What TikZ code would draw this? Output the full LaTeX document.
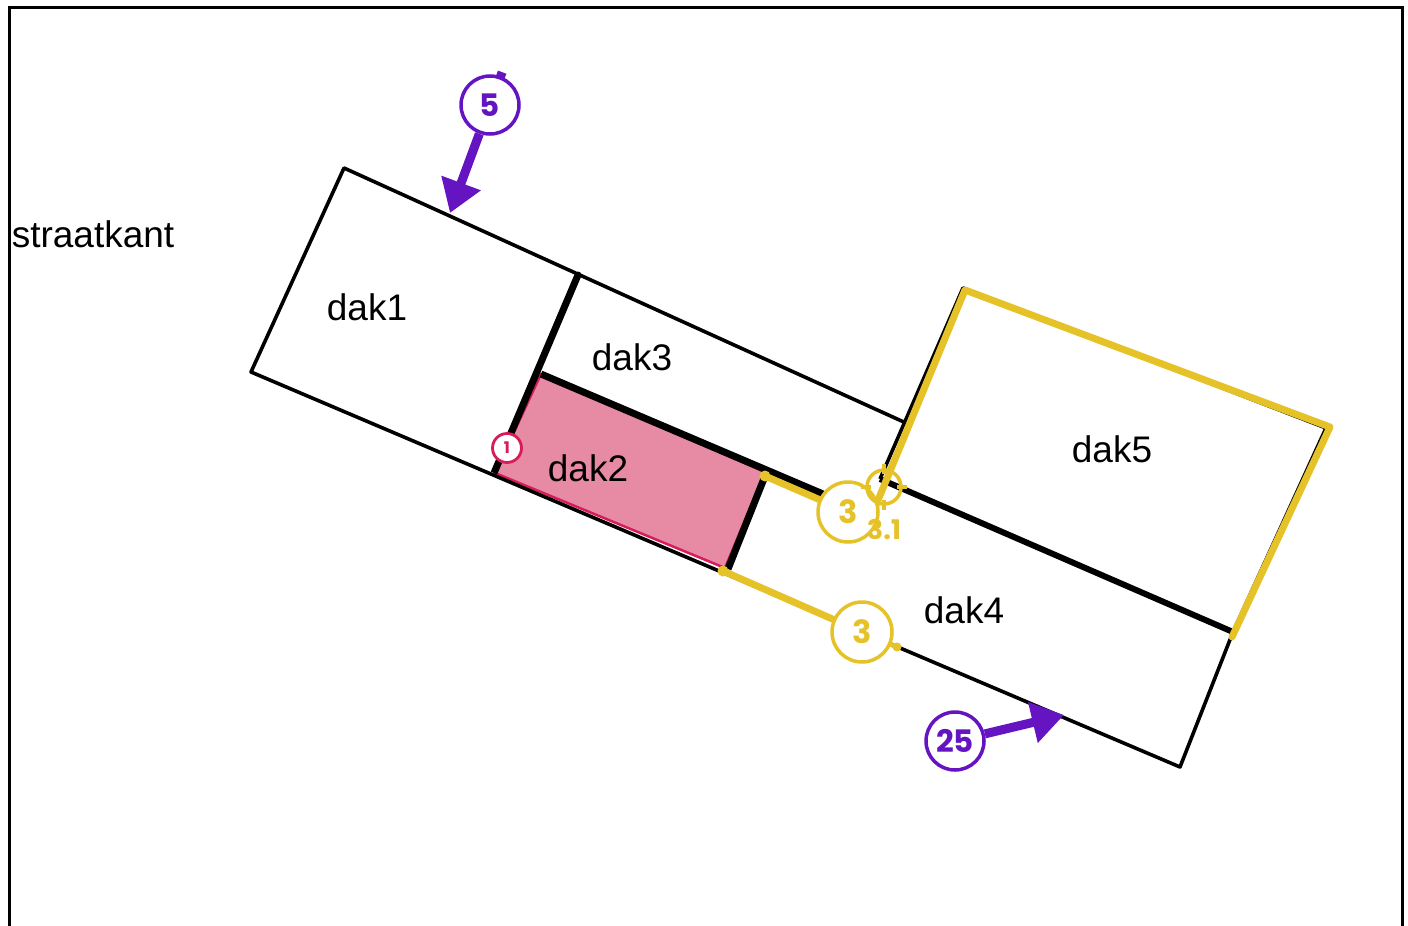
\documentclass[tikz,border=0pt]{standalone}
\usepackage{fontspec}
\setmainfont{Liberation Sans}
\newfontfamily\numfont{Poppins}
\usetikzlibrary{calc,arrows.meta}
\definecolor{paars}{HTML}{6514C2}
\definecolor{geel}{HTML}{E6C229}
\definecolor{roze}{HTML}{E78BA5}
\definecolor{rood}{HTML}{D81B5A}

\begin{document}
\begin{tikzpicture}[x=1pt,y=-1pt,
      dun/.style={line width=3.6pt,line join=round},
      dik/.style={line width=7pt},
      maat/.style={draw=geel,line width=7pt,line cap=round,line join=round},
      maatnr/.style={circle,draw=geel,line width=3.5pt,fill=white,minimum size=60pt,inner sep=0pt,
        font=\numfont\bfseries\fontsize{32}{32}\selectfont,text=geel},
      windnr/.style={circle,draw=paars,line width=3.5pt,fill=white,minimum size=58pt,inner sep=0pt,
        font=\numfont\bfseries\fontsize{31}{31}\selectfont,text=paars},
      windpijl/.style={draw=paars,line width=9pt,-{Triangle[width=40pt,length=32pt]}},
      daklabel/.style={font=\fontsize{37}{42}\selectfont},
    ]
    \useasboundingbox (0,0) rectangle (1408,926);
    \draw[line width=3pt] (9,940) -- (9,7) -- (1402,7) -- (1402,940);

    % hoekpunten
    \coordinate (a) at (344,168);
    \coordinate (b) at (251,372);
    \coordinate (c) at (1180,767);
    \coordinate (d) at (1233,632);
    \coordinate (e) at (906,423);
    \coordinate (n1) at (578,275);
    \coordinate (n2) at (494,473);
    \coordinate (p1) at (541,374);
    \coordinate (p2) at (765,472);
    \coordinate (p3) at (725,568);
    \coordinate (p4) at (495,473);
    \coordinate (q1) at (963,288);
    \coordinate (q2) at (1326,428);
    \coordinate (q3) at (880,479);

    % dak2
    \draw[fill=roze,draw=rood,line width=2.5pt] (p1) -- (p2) -- (p3) -- (p4) -- cycle;

    % omtrek
    \draw[dun] (e) -- (a) -- (b) -- (c) -- (d) -- (q2) -- (q1) -- (q3);
    \draw[dik] (n1) -- (n2);
    \draw[dik] (p1) -- (823,494);
    \draw[dik] (767,471) -- (728,569);
    \draw[line width=6pt] (q3) -- (d);
    \fill (n1) circle (3.5pt);

    % geel
    \draw[maat] (876,505) -- (965,290) -- (1330,427) -- (1232,637);

    % labels
    \node[daklabel] (straat) at (93,234) {straatkant};
    \node[daklabel] (dak1) at (367,307) {dak1};
    \node[daklabel] (dak2) at (588,468) {dak2};
    \node[daklabel] (dak3) at (632,357) {dak3};
    \node[daklabel] (dak4) at (964,610) {dak4};
    \node[daklabel] (dak5) at (1112,449) {dak5};

    % maten
    \coordinate (m1a) at (765,476);
    \coordinate (m2a) at (723,571);
    \coordinate (m2b) at (897,647);
    \node[maatnr] (maat1) at (848,512) {3};
    \node[maatnr] (maat2) at (862,632) {3};
    \draw[maat] (m1a) -- (maat1);
    \draw[maat] (m2a) -- (maat2);
    \draw[maat,line width=5pt] (maat2) -- (m2b);
    \fill[geel] (m1a) circle (5.5pt) (m2a) circle (5.5pt) (m2b) circle (4.5pt);
    \node[circle,draw=geel,line width=3.5pt,minimum size=34pt,inner sep=0pt] (kruis) at (884,487) {};
    \foreach \h in {0,90,180,270}
      \draw[geel,line width=4.5pt] ([shift={(\h:13)}]kruis.center) -- ([shift={(\h:23)}]kruis.center);
    \node[text=geel,font=\numfont\bfseries\fontsize{27}{27}\selectfont] (maat3) at (884,530) {3.1};

    % nummer
    \node[circle,draw=rood,line width=2.8pt,fill=white,minimum size=29pt,inner sep=0pt,
      text=rood,font=\numfont\bfseries\fontsize{16}{16}\selectfont] (een) at (507,448) {1};

    % wind
    \coordinate (w5) at (450,213);
    \coordinate (w25) at (1064,715);
    \node[windnr] (wind5) at (490,105) {5};
    \node[windnr] (wind25) at (955,741) {25};
    \draw[windpijl] (wind5) -- (w5);
    \draw[windpijl] (wind25) -- (w25);
    \draw[paars,line width=9pt] ($(wind5.center)!-28pt!(w5)$) -- ($(wind5.center)!-35pt!(w5)$);
  \end{tikzpicture}
\end{document}
